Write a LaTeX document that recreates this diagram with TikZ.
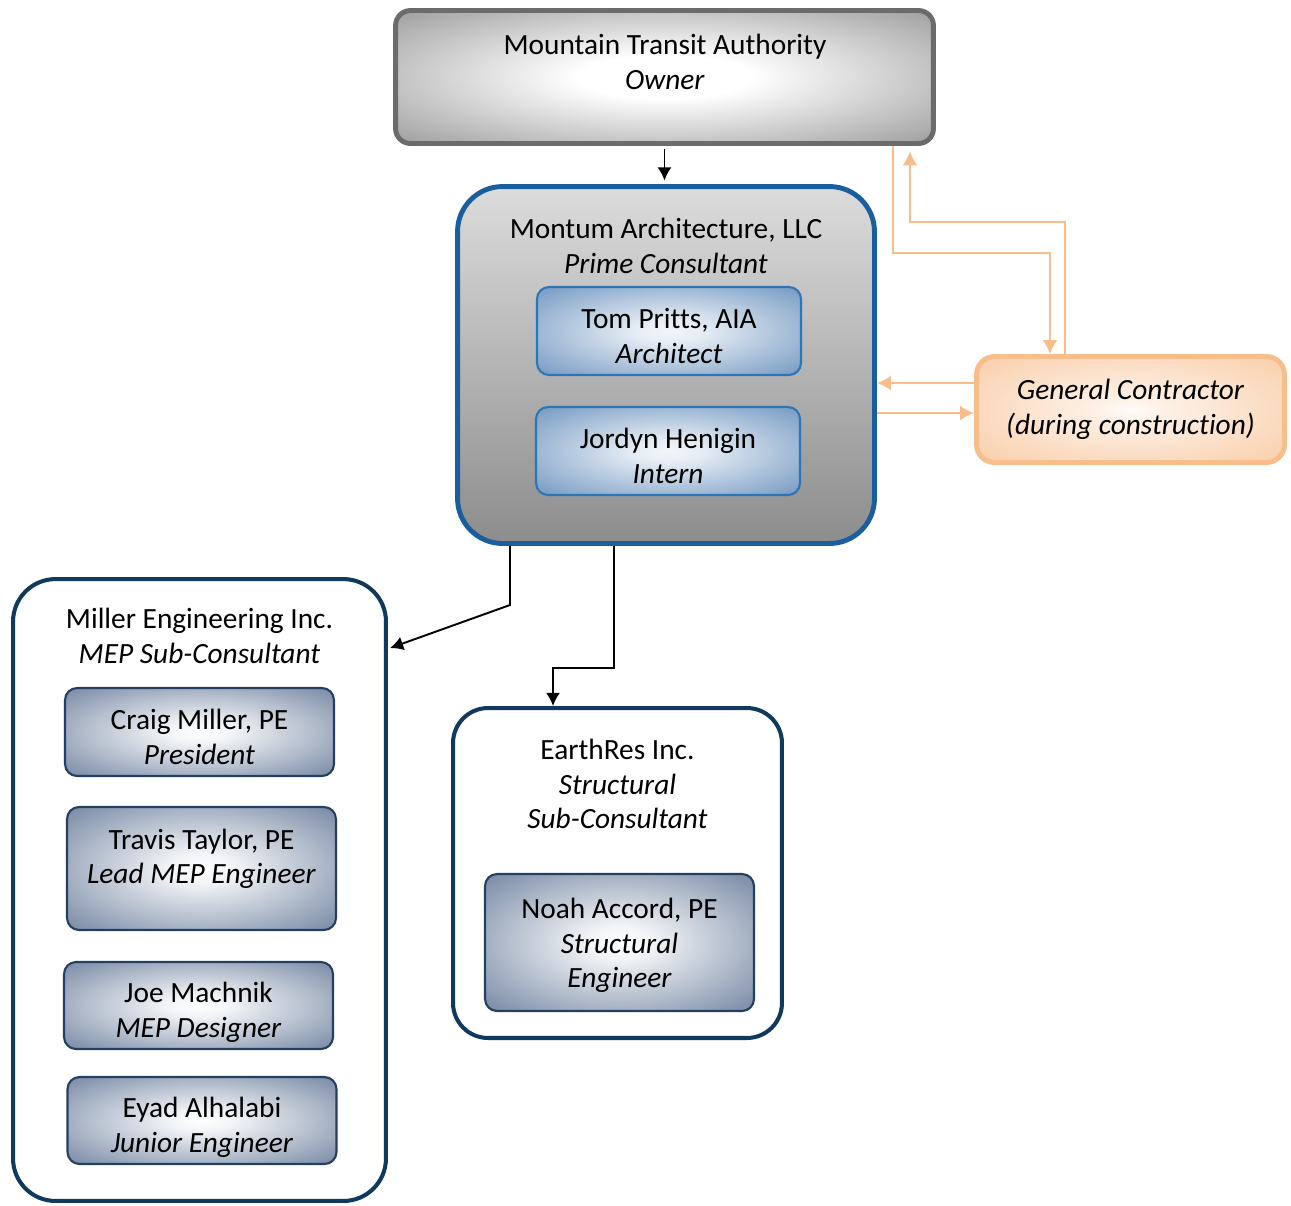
\documentclass[tikz,border=0pt]{standalone}
\usepackage{fontspec}
\setmainfont{Carlito}[Ligatures=NoCommon]
\usetikzlibrary{calc}
\usetikzlibrary{arrows.meta}
\usetikzlibrary{positioning}
\definecolor{OwnerGray}{HTML}{959595}
\definecolor{OwnerEdge}{HTML}{6B6B6B}
\definecolor{PrimeBlue}{HTML}{1B5E9E}
\definecolor{PrimeGray}{HTML}{777777}
\definecolor{StaffBlue}{HTML}{2E75B6}
\definecolor{StaffFill}{HTML}{7A9DC4}
\definecolor{SubNavy}{HTML}{0F3A5E}
\definecolor{SubEdge}{HTML}{243F5F}
\definecolor{SubFill}{HTML}{7D8EA8}
\definecolor{GcOrange}{HTML}{F7BE8B}
\definecolor{GcFill}{HTML}{F9CDA8}
\pgfdeclareradialshading{OwnerShade}{\pgfpointorigin}{color(0bp)=(white); color(8bp)=(white); color(38bp)=(OwnerGray); color(50bp)=(OwnerGray)}
\pgfdeclareverticalshading{PrimeShade}{100bp}{color(0bp)=(PrimeGray); color(20bp)=(PrimeGray!90!white); color(50bp)=(PrimeGray!55!white); color(80bp)=(PrimeGray!20!white); color(100bp)=(PrimeGray!8!white)}
\pgfdeclareradialshading{StaffShade}{\pgfpointorigin}{color(0bp)=(white!90!StaffFill); color(6bp)=(white!82!StaffFill); color(34bp)=(StaffFill); color(50bp)=(StaffFill!92!black)}
\pgfdeclareradialshading{SubShade}{\pgfpointorigin}{color(0bp)=(white); color(6bp)=(white!90!SubFill); color(34bp)=(SubFill); color(50bp)=(SubFill!92!black)}
\pgfdeclareradialshading{GcShade}{\pgfpointorigin}{color(0bp)=(white!94!GcFill); color(6bp)=(white!70!GcFill); color(36bp)=(GcFill); color(50bp)=(GcFill)}

\begin{document}
\begin{tikzpicture}[x=0.02cm, y=-0.02cm,
  every node/.style={font=\fontsize{16.7pt}{19.8pt}\selectfont, align=center},
  ownerbox/.style={draw=OwnerEdge, line width=2.8pt, rounded corners=0.3cm, shade, shading=OwnerShade},
  primebox/.style={draw=PrimeBlue, line width=2.8pt, rounded corners=0.9cm, shade, shading=PrimeShade},
  staffbox/.style={draw=StaffBlue, line width=1.2pt, rounded corners=0.24cm, shade, shading=StaffShade,
    minimum width=5.28cm, minimum height=1.76cm, text height=37pt},
  subbox/.style={draw=SubNavy, line width=2.3pt, rounded corners=0.85cm, fill=white},
  subperson/.style={draw=SubEdge, line width=1.2pt, rounded corners=0.24cm, shade, shading=SubShade, minimum width=5.38cm},
  gcbox/.style={draw=GcOrange, line width=2.8pt, rounded corners=0.36cm, shade, shading=GcShade},
  link/.style={-{Latex[length=7.5pt,width=8pt]}, line width=1.1pt, black},
  gclink/.style={-{Latex[length=8pt,width=8.5pt]}, line width=1.2pt, GcOrange}]
  \useasboundingbox (0,0) rectangle (1291,1205);

  % owner and prime
  \node[ownerbox, minimum width=10.76cm, minimum height=2.66cm] (owner) at (664.5,77) {};
  \node (ownertitle) at (665,62) {Mountain Transit Authority\\\textit{Owner}};

  \node[primebox, minimum width=8.34cm, minimum height=7.14cm] (montum) at (666,365) {};
  \node (montumtitle) at (666,246) {Montum Architecture, LLC\\\textit{Prime Consultant}};
  \node[staffbox] (tom) at (669,331) {Tom Pritts, AIA\\\textit{Architect}};
  \node[staffbox] (jordyn) at (668,451) {Jordyn Henigin\\\textit{Intern}};

  \node[gcbox, minimum width=6.16cm, minimum height=2.12cm] (gc) at (1130.5,409.5)
    {\textit{General Contractor}\\\textit{(during construction)}};

  % sub-consultants
  \node[subbox, minimum width=7.46cm, minimum height=12.44cm] (miller) at (199.5,890) {};
  \node (millertitle) at (199.5,636) {Miller Engineering Inc.\\\textit{MEP Sub-Consultant}};
  \node[subperson, minimum height=1.76cm, text height=37pt] (craig) at (199.5,732) {Craig Miller, PE\\\textit{President}};
  \node[subperson, minimum height=2.46cm, text depth=14pt] (travis) at (201.5,868.5) {Travis Taylor, PE\\\textit{Lead MEP Engineer}};
  \node[subperson, minimum height=1.74cm, text height=39pt] (joe) at (198.5,1005.5) {Joe Machnik\\\textit{MEP Designer}};
  \node[subperson, minimum height=1.74cm, text height=39pt] (eyad) at (202,1120.5) {Eyad Alhalabi\\\textit{Junior Engineer}};

  \node[subbox, rounded corners=0.7cm, minimum width=6.58cm, minimum height=6.6cm] (earth) at (617.5,873) {};
  \node (earthtitle) at (617.5,784) {EarthRes Inc.\\\textit{Structural}\\\textit{Sub-Consultant}};
  \node[subperson, minimum height=2.74cm, text height=54.5pt] (noah) at (619.5,942.5) {Noah Accord, PE\\\textit{Structural}\\\textit{Engineer}};

  % bends
  \coordinate (MillerBend) at (510,605);
  \coordinate (MillerIn) at ($(miller.north east)+(2,71)$);
  \coordinate (EarthBend) at (614,668);
  \coordinate (EarthIn) at (553,668);
  \coordinate (GcLeft) at (893,253);
  \coordinate (GcRight) at (1050,253);
  \coordinate (GcUpRight) at (1065,222);
  \coordinate (GcUpLeft) at (910,222);
  \coordinate (GcBack) at ($(gc.west)+(0,-26.5)$);

  \draw[link, shorten <=2pt, shorten >=2pt] (owner.south) -- (owner.south |- montum.north);
  \draw[link] (montum.south -| MillerBend) -- (MillerBend) -- (MillerIn);
  \draw[link] (montum.south -| EarthBend) -- (EarthBend) -- (EarthIn) -- (EarthIn |- earth.north);

  \draw[gclink] (owner.south -| GcLeft) -- (GcLeft) -- (GcRight) -- (GcRight |- gc.north);
  \draw[gclink, shorten >=3pt] (gc.north -| GcUpRight) -- (GcUpRight) -- (GcUpLeft) -- (GcUpLeft |- owner.south);
  \draw[gclink] (GcBack) -- (GcBack -| montum.east);
  \draw[gclink] ($(montum.east |- gc.west)+(0,3.5)$) -- ($(gc.west)+(0,3.5)$);
\end{tikzpicture}
\end{document}
